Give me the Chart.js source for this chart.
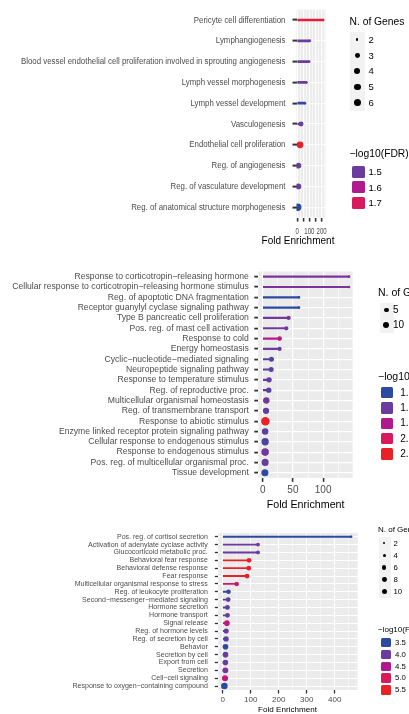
<!DOCTYPE html>
<html lang="en">
<head>
<meta charset="UTF-8">
<title>Fold Enrichment</title>
<script src="https://cdn.jsdelivr.net/npm/chart.js"></script>
<style>
  body { margin: 0; width: 409px; height: 714px; overflow: hidden; background: #fff; position: relative; font-family: "Liberation Sans", Arial, sans-serif; }
  canvas { position: absolute; left: 0; }
  .lg { position: absolute; white-space: nowrap; color: #000; }
</style>
</head>
<body>
<canvas id="c1" width="409" height="250" style="top:0"></canvas>
<canvas id="c2" width="409" height="256" style="top:255px"></canvas>
<canvas id="c3" width="409" height="194" style="top:520px"></canvas>
<script>
// ---- top panel
const terms1 = ['Pericyte cell differentiation', 'Lymphangiogenesis',
  'Blood vessel endothelial cell proliferation involved in sprouting angiogenesis',
  'Lymph vessel morphogenesis', 'Lymph vessel development', 'Vasculogenesis',
  'Endothelial cell proliferation', 'Reg. of angiogenesis', 'Reg. of vasculature development',
  'Reg. of anatomical structure morphogenesis'];
const fold1 = [214, 105, 100, 78, 65, 32, 24, 10, 10, 5];
const genes1 = [2, 2, 2, 2, 2, 3, 5, 4, 4, 6];
const fdr1 = [1.76, 1.5, 1.5, 1.5, 1.42, 1.5, 1.8, 1.5, 1.5, 1.4];
const xTicks1 = [0, 50, 100, 150, 200];
const xLabels1 = [0, 100, 200];
const sizeBreaks1 = [2, 3, 4, 5, 6];
const fdrBreaks1 = [1.5, 1.6, 1.7];
const ramp1 = [1.4, 1.5, 1.6, 1.7, 1.8];

// ---- middle panel
const terms2 = ['Response to corticotropin\u2212releasing hormone',
  'Cellular response to corticotropin\u2212releasing hormone stimulus',
  'Reg. of apoptotic DNA fragmentation', 'Receptor guanylyl cyclase signaling pathway',
  'Type B pancreatic cell proliferation', 'Pos. reg. of mast cell activation', 'Response to cold',
  'Energy homeostasis', 'Cyclic\u2212nucleotide\u2212mediated signaling', 'Neuropeptide signaling pathway',
  'Response to temperature stimulus', 'Reg. of reproductive proc.', 'Multicellular organismal homeostasis',
  'Reg. of transmembrane transport', 'Response to abiotic stimulus',
  'Enzyme linked receptor protein signaling pathway', 'Cellular response to endogenous stimulus',
  'Response to endogenous stimulus', 'Pos. reg. of multicellular organismal proc.', 'Tissue development'];
const fold2 = [143, 143, 60, 60, 43, 39, 28, 28, 14.5, 14, 10.5, 10, 6, 5.5, 4.4, 4, 4, 4, 4, 3.6];
const genes2 = [2, 2, 2, 2, 5, 5, 6, 5, 7, 7, 8, 8, 11, 11, 20, 12, 15, 16, 14, 14];
const fdr2 = [1.65, 1.65, 1.4, 1.4, 1.62, 1.62, 1.85, 1.6, 1.55, 1.55, 1.58, 1.55, 1.62, 1.56, 2.2, 1.55, 1.52, 1.62, 1.58, 1.4];
const xTicks2 = [0, 50, 100];
const xLabels2 = [0, 50, 100];
const sizeBreaks2 = [5, 10];
const fdrBreaks2 = [1.4, 1.6, 1.8, 2.0, 2.2];
const ramp2 = [1.4, 1.6, 1.8, 2.0, 2.2];

// ---- bottom panel
const terms3 = ['Pos. reg. of cortisol secretion', 'Activation of adenylate cyclase activity',
  'Glucocorticoid metabolic proc.', 'Behavioral fear response', 'Behavioral defense response',
  'Fear response', 'Multicellular organismal response to stress', 'Reg. of leukocyte proliferation',
  'Second\u2212messenger\u2212mediated signaling', 'Hormone secretion', 'Hormone transport', 'Signal release',
  'Reg. of hormone levels', 'Reg. of secretion by cell', 'Behavior', 'Secretion by cell',
  'Export from cell', 'Secretion', 'Cell\u2212cell signaling', 'Response to oxygen\u2212containing compound'];
const fold3 = [459, 126, 126, 94, 93, 87, 50, 21, 19.5, 17, 17, 15, 12.5, 12, 10, 10, 9.5, 9.5, 8.3, 6];
const genes3 = [2, 5, 5, 8, 8, 8, 7, 7, 8, 8, 8, 11, 9, 10, 11, 11, 11, 12, 13, 15];
const fdr3 = [3.5, 4.0, 4.0, 5.5, 5.5, 5.45, 4.85, 3.6, 3.95, 3.9, 3.95, 4.7, 3.95, 3.9, 3.5, 3.95, 4.0, 4.1, 4.7, 3.5];
const xTicks3 = [0, 100, 200, 300, 400];
const xLabels3 = [0, 100, 200, 300, 400];
const sizeBreaks3 = [2, 4, 6, 8, 10];
const fdrBreaks3 = [3.5, 4.0, 4.5, 5.0, 5.5];
const ramp3 = [3.5, 4.0, 4.5, 5.0, 5.5];

const rampColors = ['#2B4AA0', '#6C3B9E', '#B1198F', '#D81A5C', '#EA2027'];

// colour scale: blue -> purple -> magenta -> red
function hexRgb(h) { return [1, 3, 5].map(i => parseInt(h.substr(i, 2), 16)); }
function rampColor(stops, v) {
  if (v <= stops[0]) return rampColors[0];
  if (v >= stops[stops.length - 1]) return rampColors[rampColors.length - 1];
  let i = 0;
  while (v > stops[i + 1]) i++;
  const t = (v - stops[i]) / (stops[i + 1] - stops[i]);
  const a = hexRgb(rampColors[i]), b = hexRgb(rampColors[i + 1]);
  return 'rgb(' + a.map((c, k) => Math.round(c + (b[k] - c) * t)).join(',') + ')';
}

// point size scales
const rad1 = n => 1.2 + 2.5 * Math.sqrt((n - 2) / 4);
const rad2 = n => 0.95 * Math.sqrt(n);
const rad3 = n => 0.85 * Math.sqrt(n);

const SANS = '"Liberation Sans", Arial, sans-serif';

const panelBg = {
  id: 'panelBg',
  beforeDraw(chart) {
    const { ctx, chartArea: a } = chart;
    ctx.save();
    ctx.fillStyle = '#EBEBEB';
    ctx.fillRect(a.left, a.top, a.right - a.left, a.bottom - a.top);
    ctx.restore();
  }
};

// axis labels drawn from the scales (lets the top panel use squeezed text like the original)
const axisText = {
  id: 'axisText',
  afterDraw(chart, args, o) {
    const { ctx } = chart;
    const x = chart.scales.x, y = chart.scales.y;
    const squeezed = (t, px, py, sq) => {
      ctx.save(); ctx.translate(px, py); ctx.scale(sq, 1); ctx.fillText(t, 0, 0); ctx.restore();
    };
    ctx.save();
    ctx.fillStyle = '#4D4D4D';
    ctx.textBaseline = 'middle';
    ctx.textAlign = 'right';
    ctx.font = o.yfs + 'px ' + SANS;
    y.ticks.forEach((t, i) => squeezed(y.getLabelForValue(t.value), o.yx, y.getPixelForTick(i), o.sq));
    ctx.textAlign = 'center';
    ctx.font = o.xfs + 'px ' + SANS;
    o.labels.forEach(v => squeezed(String(v), x.getPixelForValue(v), o.xy, o.xsq));
    ctx.fillStyle = '#000';
    ctx.font = o.tfs + 'px ' + SANS;
    ctx.fillText('Fold Enrichment', o.tx, o.ty);
    ctx.restore();
  }
};

function lollipop(id, o) {
  const colors = o.fdr.map(v => rampColor(o.ramp, v));
  const gridVals = [];
  for (let v = Math.ceil(o.min / o.minor) * o.minor; v <= o.max; v += o.minor) gridVals.push(v);
  const isMajor = c => c.tick && o.majors.includes(c.tick.value);
  return new Chart(document.getElementById(id), {
    type: 'bar',
    data: {
      labels: o.terms,
      datasets: [
        { type: 'line', data: o.fold, showLine: false, order: 0,
          pointRadius: o.genes.map(o.rad), pointHoverRadius: o.genes.map(o.rad),
          pointBackgroundColor: colors, pointBorderWidth: 0 },
        { type: 'bar', data: o.fold, backgroundColor: colors, barThickness: o.stem, order: 1 }
      ]
    },
    options: {
      indexAxis: 'y',
      responsive: false,
      animation: false,
      events: [],
      layout: { padding: { top: o.top, right: o.right, left: 0, bottom: 0 } },
      plugins: {
        legend: { display: false }, tooltip: { enabled: false },
        axisText: {
          sq: o.sq, xsq: o.xsq, yfs: o.yfs, yx: o.left - o.ytl - o.ypad, xfs: o.xfs, xy: o.xy,
          labels: o.labels, tfs: o.tfs, tx: o.tx, ty: o.ty
        }
      },
      scales: {
        x: {
          type: 'linear', min: o.min, max: o.max,
          afterBuildTicks: s => { s.ticks = gridVals.map(v => ({ value: v })); },
          afterFit: s => { s.height = o.xh; },
          border: { display: false },
          grid: {
            color: '#fff',
            lineWidth: c => isMajor(c) ? o.gw : o.gw / 2,
            tickColor: c => isMajor(c) ? '#333' : 'rgba(0,0,0,0)',
            tickLength: o.xtl, tickWidth: o.xtw
          },
          ticks: { display: false }
        },
        y: {
          afterFit: s => { s.width = o.left; },
          border: { display: false },
          grid: { offset: false, color: '#fff', lineWidth: o.gw, tickColor: '#333',
            tickLength: o.ytl, tickWidth: o.ytw },
          ticks: { display: false }
        }
      }
    },
    plugins: [panelBg, axisText]
  });
}

lollipop('c1', {
  terms: terms1, fold: fold1, genes: genes1, fdr: fdr1, ramp: ramp1, rad: rad1,
  min: -5, max: 232, minor: 25, majors: xTicks1, labels: xLabels1,
  top: 9.6, right: 409 - 325.5, left: 296.5, xh: 32.4, stem: 2, gw: 1.2,
  xtl: 4, xtw: 1.6, ytl: 4, ytw: 2, ypad: 7,
  sq: 0.82, xsq: 0.74, yfs: 9.6, xfs: 8.2, xy: 232, tfs: 10, tx: 298, ty: 241
});

lollipop('c2', {
  terms: terms2, fold: fold2, genes: genes2, fdr: fdr2, ramp: ramp2, rad: rad2,
  min: -7.3, max: 149, minor: 25, majors: xTicks2, labels: xLabels2,
  top: 16.5, right: 409 - 352.7, left: 258.3, xh: 33.1, stem: 1.5, gw: 1.2,
  xtl: 4, xtw: 1.6, ytl: 4, ytw: 1.8, ypad: 5.5,
  sq: 1, xsq: 1, yfs: 8.65, xfs: 10, xy: 235, tfs: 10.7, tx: 305.6, ty: 250
});

lollipop('c3', {
  terms: terms3, fold: fold3, genes: genes3, fdr: fdr3, ramp: ramp3, rad: rad3,
  min: -15.7, max: 482, minor: 50, majors: xTicks3, labels: xLabels3,
  top: 12.8, right: 409 - 357.7, left: 218.3, xh: 24, stem: 1.2, gw: 1,
  xtl: 3.5, xtw: 1.3, ytl: 3.5, ytw: 1.3, ypad: 7,
  sq: 1, xsq: 1, yfs: 7.05, xfs: 8, xy: 180, tfs: 8.1, tx: 287.5, ty: 190
});

// ---- legends (html)
function put(html, css) {
  const d = document.createElement('div');
  d.className = 'lg';
  d.innerHTML = html;
  Object.assign(d.style, css);
  document.body.appendChild(d);
  return d;
}
function text(t, x, y, fs) {
  put(t, { left: x + 'px', top: (y - fs * 0.6) + 'px', fontSize: fs + 'px', lineHeight: (fs * 1.2) + 'px' });
}
function legend(g) {
  text('N. of Genes', g.x, g.ty, g.tfs);
  const y0 = g.ky, st = g.kstep, n = g.sizes.length;
  put('', { left: g.kx + 'px', top: (y0 - st / 2) + 'px', width: g.kw + 'px', height: (st * n) + 'px', background: '#F2F2F2' });
  g.sizes.forEach((s, i) => {
    const r = g.rad(s), cy = y0 + i * st;
    put('', { left: (g.dx - r) + 'px', top: (cy - r) + 'px', width: 2 * r + 'px', height: 2 * r + 'px', borderRadius: '50%', background: '#000' });
    text(String(s), g.lx, cy, g.fs);
  });
  text('\u2212log10(FDR)', g.x, g.cty, g.tfs);
  g.breaks.forEach((b, i) => {
    const cy = g.cy + i * g.cstep;
    put('', { left: g.sx + 'px', top: (cy - g.sh / 2) + 'px', width: g.sw + 'px', height: g.sh + 'px', borderRadius: '1.5px', background: rampColor(g.ramp, b) });
    text(b.toFixed(1), g.clx, cy, g.fs);
  });
}

legend({ x: 349.5, ty: 21.7, tfs: 10.3, sizes: sizeBreaks1, rad: rad1, ky: 39.5, kstep: 15.8, kx: 350, kw: 15,
  dx: 357.3, lx: 368.5, fs: 9.5, cty: 154, breaks: fdrBreaks1, ramp: ramp1, cy: 172, cstep: 15.3,
  sx: 351.5, sw: 13, sh: 12, clx: 368.5 });
legend({ x: 378, ty: 292.7, tfs: 10.5, sizes: sizeBreaks2, rad: rad2, ky: 310, kstep: 15, kx: 379.5, kw: 14,
  dx: 386.5, lx: 393, fs: 10, cty: 376, breaks: fdrBreaks2, ramp: ramp2, cy: 392.7, cstep: 15.3,
  sx: 380.5, sw: 12.5, sh: 11.5, clx: 400.3 });
legend({ x: 378, ty: 530, tfs: 8, sizes: sizeBreaks3, rad: rad3, ky: 543.3, kstep: 12.1, kx: 378.5, kw: 12,
  dx: 384.2, lx: 393.5, fs: 7.8, cty: 630, breaks: fdrBreaks3, ramp: ramp3, cy: 642.7, cstep: 11.8,
  sx: 380.5, sw: 10, sh: 9.5, clx: 395 });
</script>
</body>
</html>
